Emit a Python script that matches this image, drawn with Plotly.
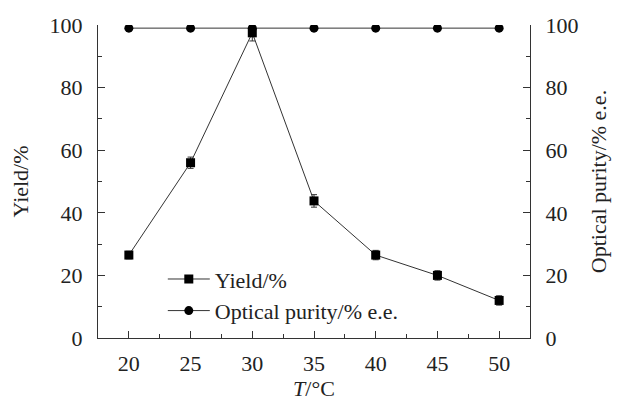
import plotly.graph_objects as go

temps = [20, 25, 30, 35, 40, 45, 50]
yield_pct = [26.5, 56.0, 97.5, 43.8, 26.5, 20.0, 12.0]
yield_err = [1.2, 1.8, 2.6, 2.0, 1.5, 1.5, 1.5]
purity = [99, 99, 99, 99, 99, 99, 99]

FONT = "Liberation Serif, Times New Roman, serif"
FS = 22

fig = go.Figure()
fig.add_trace(go.Scatter(
    x=temps, y=yield_pct, name="Yield/%", mode="lines+markers",
    line=dict(color="#333333", width=1),
    marker=dict(symbol="square", size=9, color="black"),
    error_y=dict(type="data", array=yield_err, visible=True, color="#333333", thickness=1, width=3),
))
fig.add_trace(go.Scatter(
    x=temps, y=purity, name="Optical purity/% e.e.", mode="lines+markers",
    line=dict(color="#333333", width=1),
    marker=dict(symbol="circle", size=9, color="black"),
    yaxis="y2",
))

axis_common = dict(
    showgrid=False, zeroline=False, showline=True, linecolor="#333333", linewidth=1,
    ticks="inside", ticklen=7, tickcolor="#333333", tickwidth=1, automargin=False,
    tickfont=dict(family=FONT, size=FS, color="#222222"),
)

# page body has an 8px margin, so the figure is sized to fit the window
fig.update_layout(
    width=613, height=396,
    margin=dict(l=90, r=91, t=17, b=66),
    paper_bgcolor="white", plot_bgcolor="white",
    font=dict(family=FONT, size=FS, color="#222222"),
    showlegend=True,
    legend=dict(x=0.15, y=0.255, xanchor="left", yanchor="top",
                bgcolor="rgba(0,0,0,0)", font=dict(family=FONT, size=FS),
                tracegroupgap=0, itemwidth=42),
    xaxis=dict(
        range=[17.5, 52.5], tickvals=temps, ticktext=[str(t) for t in temps],
        minor=dict(ticks="inside", ticklen=4, tickcolor="#333333", tick0=22.5, dtick=5),
        ticklabelstandoff=6,
        title=dict(text="<i>T</i>/°C", font=dict(family=FONT, size=FS), standoff=0),
        **axis_common,
    ),
    yaxis=dict(
        range=[0, 100], tick0=0, dtick=20,
        minor=dict(ticks="inside", ticklen=4, tickcolor="#333333", dtick=10),
        ticklabelstandoff=10,
        title=dict(text="Yield/%", font=dict(family=FONT, size=FS), standoff=14),
        **axis_common,
    ),
    yaxis2=dict(
        range=[0, 100], tick0=0, dtick=20, overlaying="y", side="right",
        minor=dict(ticks="inside", ticklen=4, tickcolor="#333333", dtick=10),
        ticklabelstandoff=10,
        title=dict(text="Optical purity/% e.e.", font=dict(family=FONT, size=FS), standoff=13),
        **axis_common,
    ),
)

fig.write_html("out.html")
